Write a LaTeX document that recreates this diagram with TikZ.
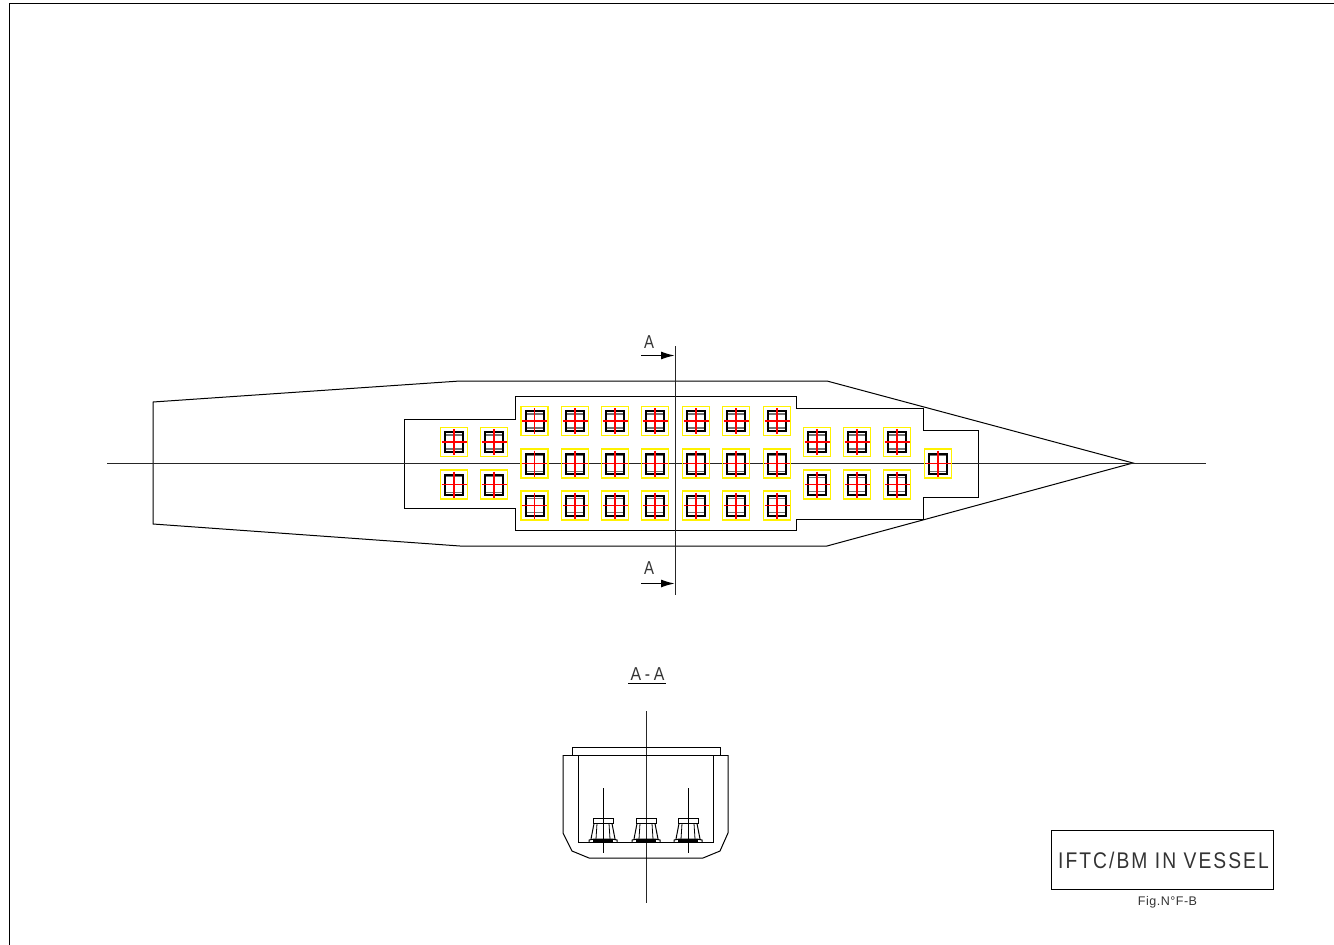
\documentclass[tikz,border=0pt]{standalone}
\usepackage{fontspec}
\setmainfont{Liberation Sans}
\newfontfamily\cadfont[FakeStretch=0.85,LetterSpace=9]{Liberation Sans}
\newfontfamily\cadwide[FakeStretch=0.85,LetterSpace=20]{Liberation Sans}
\newfontfamily\cadsmall[LetterSpace=4]{Liberation Sans}
\newfontfamily\cadone[FakeStretch=0.8]{Liberation Sans}
\usetikzlibrary{arrows.meta}
\tikzset{
  cad/.style={line width=0.75pt,black,line cap=butt,line join=miter},
  axis/.style={line width=0.75pt,black!85},
  yel/.style={line width=1pt,yellow},
  redcross/.style={line width=1.05pt,red},
  blk/.style={line width=1.5pt,black},
  inner/.style={line width=1.1pt,black!55},
  cadtext/.style={inner sep=0pt,outer sep=0pt,text=black!80},
  secarrow/.style={line width=1.2pt,-{Latex[length=10.5pt,width=6pt]}}
}
\newcommand{\cellat}[3]{%
  \draw[yel] (#1-13.5,#2-14.5) rectangle (#1+13.5,#2+14.5);
  \draw[inner] (#1-9,#2-#3) -- (#1+9,#2-#3) (#1-9,#2+#3) -- (#1+9,#2+#3);
  \draw[blk] (#1-9,#2-10) rectangle (#1+9,#2+10);
  \draw[redcross] (#1-12.5,#2) -- (#1+12.5,#2) (#1,#2-13) -- (#1,#2+13);
}
\newcommand{\pedestal}[1]{%
  \draw[cad] (#1-10,818) rectangle (#1+10,823.5);
  \draw[cad] (#1-9,823.5) -- (#1-12,839) (#1+9,823.5) -- (#1+12,839);
  \draw[cad,line width=0.6pt] (#1-6,823.5) -- (#1-7,839) (#1+6,823.5) -- (#1+7,839);
  \draw[cad] (#1-14,842) -- (#1-14,840) -- (#1-9,839) -- (#1+9,839) -- (#1+14,840) -- (#1+14,842);
  \draw[line width=2.4pt,black] (#1-10,840.5) -- (#1+10,840.5);
}
\begin{document}
\begin{tikzpicture}[x=0.75pt,y=-0.75pt]
\useasboundingbox (0,0) rectangle (1334,945);
% frame
\draw[cad] (9,945) -- (9,3.5) -- (1334,3.5);
% vessel outline
\draw[cad] (153,402) -- (460,381) -- (827,381) -- (1133,463) -- (827,546) -- (460,546) -- (153,524) -- cycle;
% tank outline
\draw[cad] (404,419) -- (515,419) -- (515,396) -- (796,396) -- (796,408) -- (923,408) -- (923,430) -- (978,430) -- (978,497) -- (923,497) -- (923,519) -- (796,519) -- (796,530) -- (515,530) -- (515,508) -- (404,508) -- cycle;
% centre line
\draw[axis] (107,463.5) -- (1206,463.5);
% cells
\foreach \x in {454,494} {\cellat{\x}{442}{7}\cellat{\x}{484.5}{8}}
\foreach \x in {534.5,575,615,655,696,736,777} {\cellat{\x}{421}{7}\cellat{\x}{463.5}{8}\cellat{\x}{505.5}{7}}
\foreach \x in {817,857,897} {\cellat{\x}{442}{7}\cellat{\x}{484.5}{7}}
\cellat{938}{463.5}{8}
% section line
\coordinate (st) at (675,346); \coordinate (sb) at (675,595);
\draw[axis] (st) -- (sb);
\coordinate (a1s) at (641,355.5); \coordinate (a1e) at (675,355.5);
\coordinate (a2s) at (641,583.5); \coordinate (a2e) at (675,583.5);
\draw[secarrow] (a1s) -- (a1e);
\draw[secarrow] (a2s) -- (a2e);
\node[cadtext,font=\cadone\fontsize{14}{14}\selectfont] (lA1) at (649,342.5) {A};
\node[cadtext,font=\cadone\fontsize{14}{14}\selectfont] (lA2) at (649,568) {A};
% section A-A
\node[cadtext,font=\cadwide\fontsize{14}{14}\selectfont] (lAA) at (647.5,674.5) {A-A};
\draw[cad] (628,683.5) -- (666,683.5);
\draw[axis] (646,711) -- (646,903);
\draw[cad] (563,755) -- (728,755);
\draw[cad] (572,755) -- (572,747) -- (720,747) -- (720,755);
\draw[cad] (563,755) -- (563,833) -- (572,851) -- (589,858) -- (703,858) -- (720,851) -- (728,833) -- (728,755);
\draw[cad] (578.5,755) -- (578.5,842.5) -- (713,842.5) -- (713,755);
\draw[cad] (603,788) -- (603,853);
\draw[cad] (688,788) -- (688,853);
\pedestal{603}\pedestal{646}\pedestal{688}
% title block
\node[cad,draw,minimum width=222.5*0.75pt,minimum height=59*0.75pt,inner sep=0pt,anchor=north west] (tb) at (1050.5,830) {};
\node[cadtext,font=\cadfont\fontsize{17}{17}\selectfont] (ttl) at (1163.5,860.5) {IFTC/BM IN VESSEL};
\node[cadtext,font=\cadsmall\fontsize{9.4}{10}\selectfont] (fig) at (1167.5,902) {Fig.N°F-B};
\end{tikzpicture}
\end{document}
